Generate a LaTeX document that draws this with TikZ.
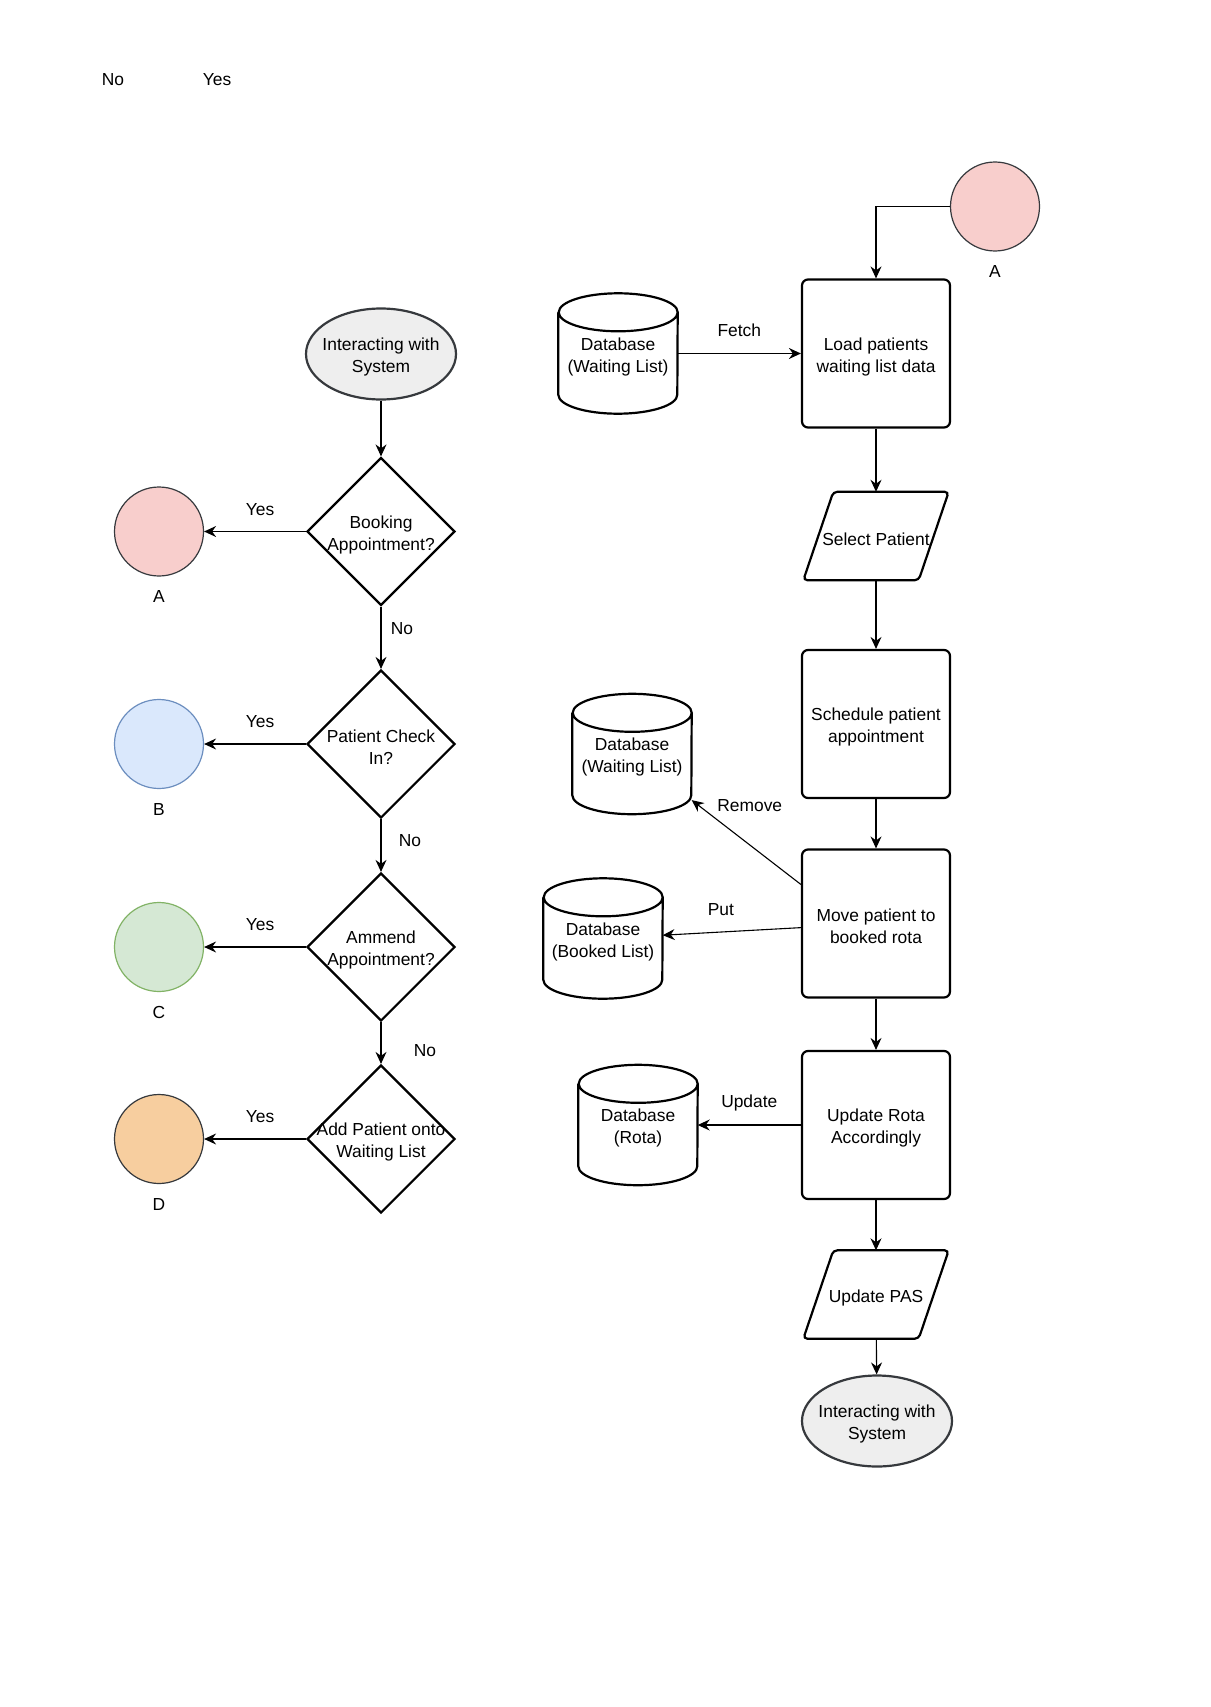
\documentclass[tikz,border=0pt]{standalone}
\usepackage{fontspec}
\setmainfont{Liberation Sans}
\usetikzlibrary{shapes.geometric,arrows.meta,calc}

\definecolor{pinkfill}{HTML}{F8CECC}
\definecolor{bluefill}{HTML}{DAE8FC}
\definecolor{blueline}{HTML}{6C8EBF}
\definecolor{greenfill}{HTML}{D5E8D4}
\definecolor{greenline}{HTML}{82B366}
\definecolor{orangefill}{HTML}{F7CE9F}
\definecolor{darkline}{HTML}{36393D}
\definecolor{termfill}{HTML}{EEEEEE}

\tikzset{
  x=1pt, y=1pt,
  every node/.style={font=\fontsize{17.4}{22}\selectfont},
  txt/.style={inner sep=0pt, align=center},
  lab/.style={inner sep=0pt},
  terminal/.style={ellipse, draw=darkline, fill=termfill, line width=2.2pt,
    minimum width=150pt, minimum height=91pt, inner sep=0pt},
  decision/.style={diamond, draw=black, line width=2.2pt,
    minimum width=148pt, minimum height=148pt, inner sep=0pt},
  process/.style={rectangle, draw=black, line width=2.2pt, rounded corners=6pt,
    minimum width=148pt, minimum height=148pt, inner sep=0pt},
  slanted/.style={rectangle, minimum width=145pt, minimum height=88pt,
    inner sep=0pt},
  slantline/.style={draw=black, line width=2.2pt, rounded corners=4pt},
  dbbox/.style={rectangle, minimum width=119pt, minimum height=120pt,
    inner sep=0pt},
  dbline/.style={draw=black, line width=2.2pt},
  connector/.style={circle, minimum size=89pt, inner sep=0pt, line width=1.2pt,
    label={[inner sep=0pt, label distance=14pt]below:#1}},
  flow/.style={draw=black, line width=1.1pt,
    -{Stealth[length=12pt,width=11pt,inset=4pt]}},
}

% centred text set inside a shape node
\newcommand\inscribe[2]{%
  \node[txt] (#1t) at ([yshift=-3pt]#1.center) {#2};
}

% input/output box drawn as a slanted parallelogram
\newcommand\slantbox[3]{%
  \node[slanted] (#1) at (#2) {};
  \draw[slantline] (#1.south west) -- ([xshift=30pt]#1.north west)
    -- (#1.north east) -- ([xshift=-30pt]#1.south east) -- cycle;
  \inscribe{#1}{#3}
}

% data store drawn as a cylinder
\newcommand\dbcyl[3]{%
  \node[dbbox] (#1) at (#2) {};
  \draw[dbline] ([yshift=-19pt]#1.north west) -- ([yshift=19pt]#1.south west)
    arc[start angle=180, end angle=360, x radius=59.5pt, y radius=19pt]
    -- ([yshift=-19pt]#1.north east)
    arc[start angle=0, end angle=360, x radius=59.5pt, y radius=19pt];
  \inscribe{#1}{#3}
}

\begin{document}
\begin{tikzpicture}
\fill[white] (0,0) rectangle (1210,-1707);
\useasboundingbox (0,0) rectangle (1210,-1707);

% loose legend text
\node[lab] (legno) at (113,-80) {No};
\node[lab] (legyes) at (217,-80) {Yes};

% ---------- left column: decision chain ----------
\node[terminal] (start) at (381,-354) {};
\inscribe{start}{Interacting with\\System}

\node[decision] (d1) at (381,-531.5) {};
\inscribe{d1}{Booking\\Appointment?}
\node[decision] (d2) at (381,-744) {};
\inscribe{d2}{Patient Check\\In?}
\node[decision] (d3) at (381,-947) {};
\inscribe{d3}{Ammend\\Appointment?}
\node[decision] (d4) at (381,-1139) {};
\inscribe{d4}{Add Patient onto\\Waiting List}

\node[connector=A, fill=pinkfill, draw=darkline] (cA) at (159,-531.5) {};
\node[connector=B, fill=bluefill, draw=blueline] (cB) at (159,-744) {};
\node[connector=C, fill=greenfill, draw=greenline] (cC) at (159,-947) {};
\node[connector=D, fill=orangefill, draw=darkline] (cD) at (159,-1139) {};

\draw[flow] (start) -- (d1);
\draw[flow] (d1) -- node[lab, pos=0.45, yshift=22pt] {Yes} (cA);
\draw[flow] (d1) -- node[lab, pos=0.35, xshift=21pt] {No} (d2);
\draw[flow] (d2) -- node[lab, pos=0.45, yshift=22pt] {Yes} (cB);
\draw[flow] (d2) -- node[lab, pos=0.4, xshift=29pt] {No} (d3);
\draw[flow] (d3) -- node[lab, pos=0.45, yshift=22pt] {Yes} (cC);
\draw[flow] (d3) -- node[lab, pos=0.67, xshift=44pt] {No} (d4);
\draw[flow] (d4) -- node[lab, pos=0.45, yshift=22pt] {Yes} (cD);

% ---------- right column: booking process ----------
\node[connector=A, fill=pinkfill, draw=darkline] (cA2) at (995,-206.5) {};

\node[process] (load) at (876,-353.5) {};
\inscribe{load}{Load patients\\waiting list data}
\slantbox{sel}{876,-536}{Select Patient}
\node[process] (sched) at (876,-724) {};
\inscribe{sched}{Schedule patient\\appointment}
\node[process] (move) at (876,-923.5) {};
\inscribe{move}{Move patient to\\booked rota}
\node[process] (rota) at (876,-1125) {};
\inscribe{rota}{Update Rota\\Accordingly}
\slantbox{pas}{876,-1294.5}{Update PAS}
\node[terminal] (stop) at (877,-1421) {};
\inscribe{stop}{Interacting with\\System}

\dbcyl{dbw1}{618,-353.5}{Database\\(Waiting List)}
\dbcyl{dbw2}{632,-754}{Database\\(Waiting List)}
\dbcyl{dbb}{603,-938.5}{Database\\(Booked List)}
\dbcyl{dbr}{638,-1125}{Database\\(Rota)}

\draw[flow] (cA2.west) -| (load.north);
\draw[flow] (dbw1) -- node[lab, midway, yshift=23pt] {Fetch} (load);
\draw[flow] (load) -- (sel);
\draw[flow] (sel) -- (sched);
\draw[flow] (sched) -- (move);
\coordinate (moveR) at ($(move.north west)!0.24!(move.south west)$);
\draw[flow] (moveR) -- node[lab, pos=0.45, xshift=-2pt, yshift=41pt] {Remove} (dbw2);
\draw[flow] (move) -- node[lab, pos=0.5, xshift=-11pt, yshift=22pt] {Put} (dbb);
\draw[flow] (move) -- (rota);
\draw[flow] (rota) -- node[lab, midway, yshift=22pt] {Update} (dbr);
\draw[flow] (rota) -- (pas);
\draw[flow] (pas) -- (stop);
\end{tikzpicture}
\end{document}
